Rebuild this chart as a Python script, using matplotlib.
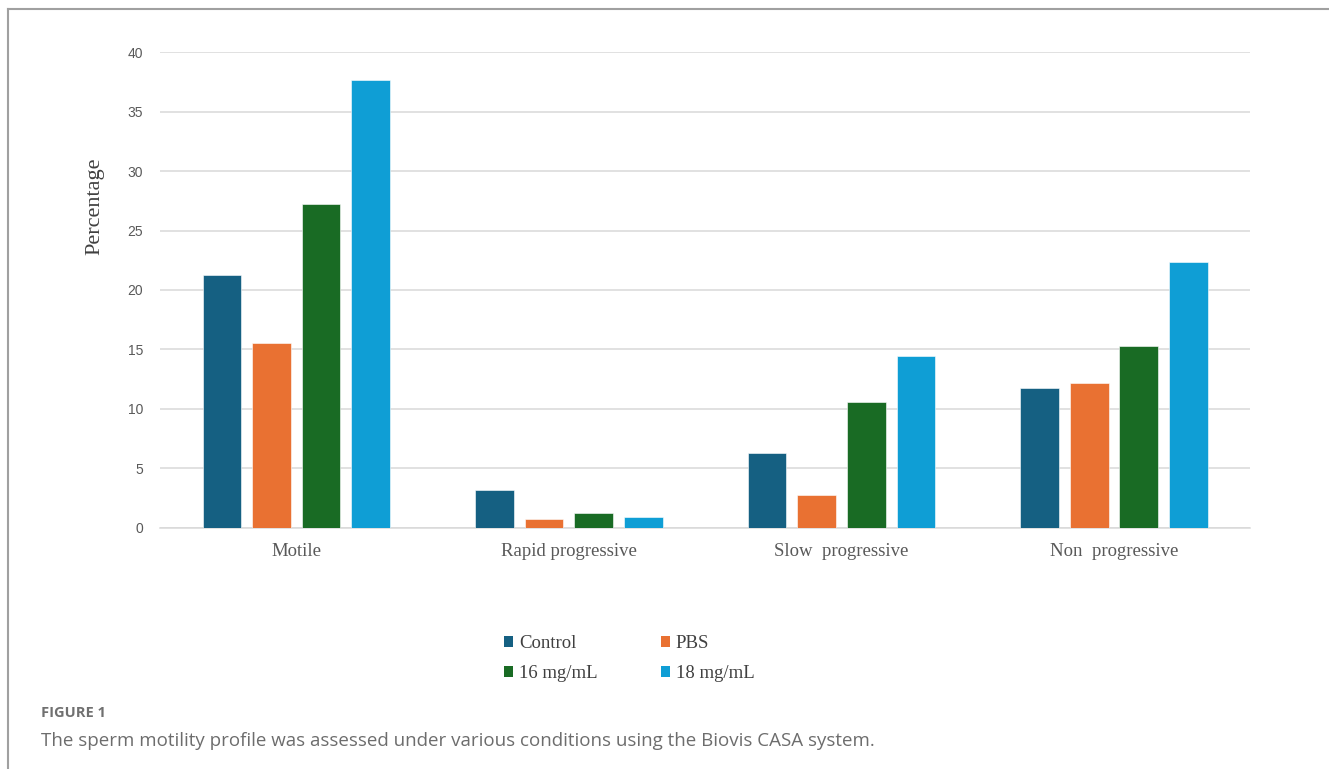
import numpy as np
import matplotlib.pyplot as plt
from matplotlib.patches import Patch
from matplotlib.lines import Line2D

# sperm motility profile (%), one list per treatment
categories = ["Motile", "Rapid progressive", "Slow  progressive", "Non  progressive"]
control = [21.25, 3.17, 6.3, 11.72]
pbs = [15.5, 0.7, 2.72, 12.14]
mg16 = [27.2, 1.26, 10.6, 15.28]
mg18 = [37.7, 0.93, 14.44, 22.32]
series_names = ["Control", "PBS", "16 mg/mL", "18 mg/mL"]
y_ticks = [0, 5, 10, 15, 20, 25, 30, 35, 40]

colors = ["#156082", "#E97132", "#196B24", "#0F9ED5"]
series = [control, pbs, mg16, mg18]

fig = plt.figure(figsize=(13.29, 7.69), dpi=100)
ax = fig.add_axes([0.1204, 0.3138, 0.8204, 0.6182])

x = np.arange(len(categories))
pitch = 0.182
width = 0.142
for i, (vals, col) in enumerate(zip(series, colors)):
    ax.bar(x + (i - 1.5) * pitch, vals, width, color=col,
           edgecolor="#ffffff", linewidth=0.4, zorder=3, label=series_names[i])

ax.set_xlim(-0.5, len(categories) - 0.5)
ax.set_ylim(0, 40)
ax.set_yticks(y_ticks)
ax.set_xticks(x)
ax.set_xticklabels(categories, family="Liberation Serif", fontsize=13.5, color="#595959")
ax.tick_params(axis="x", length=0, pad=11)
ax.tick_params(axis="y", length=0, pad=12, labelsize=10, labelcolor="#595959")
for lab in ax.get_yticklabels():
    lab.set_family("Liberation Sans")

ax.grid(axis="y", color="#d9d9d9", linewidth=1.1, zorder=0)
for s in ["top", "right", "left"]:
    ax.spines[s].set_visible(False)
ax.spines["bottom"].set_color("#d9d9d9")
ax.spines["bottom"].set_linewidth(1.1)

fig.text(95 / 1329, 1 - 206 / 769, "Percentage", rotation=90, ha="center", va="center",
         family="Liberation Serif", fontsize=16, color="#404040")

# legend: two rows, Control/PBS on top
handles = [Patch(facecolor=c, edgecolor="none") for c in colors]
order = [0, 2, 1, 3]
leg = fig.legend([handles[k] for k in order], [series_names[k] for k in order],
                 ncol=2, loc="upper left", bbox_to_anchor=(487 / 1329, 1 - 618 / 769),
                 frameon=False, handlelength=0.5, handleheight=0.5, handletextpad=0.3,
                 columnspacing=3.37, labelspacing=0.72,
                 prop={"family": "Liberation Serif", "size": 13.5})
for t in leg.get_texts():
    t.set_color("#404040")

# figure frame (left and top edges)
fig.add_artist(Line2D([7.7 / 1329, 7.7 / 1329], [0, 1 - 8.7 / 769],
                      transform=fig.transFigure, color="#a0a0a0", linewidth=1.5))
fig.add_artist(Line2D([7.7 / 1329, 1], [1 - 8.7 / 769, 1 - 8.7 / 769],
                      transform=fig.transFigure, color="#a0a0a0", linewidth=1.5))

fig.text(41 / 1329, 1 - 713 / 769, "FIGURE 1", ha="left", va="center",
         family="Open Sans", fontweight="bold", fontsize=10.5, color="#707070")
fig.text(41 / 1329, 1 - 741 / 769,
         "The sperm motility profile was assessed under various conditions using the Biovis CASA system.",
         ha="left", va="center", family="Open Sans", fontsize=13.5, color="#6d6d6d")

fig.savefig("out.png", dpi=100)
